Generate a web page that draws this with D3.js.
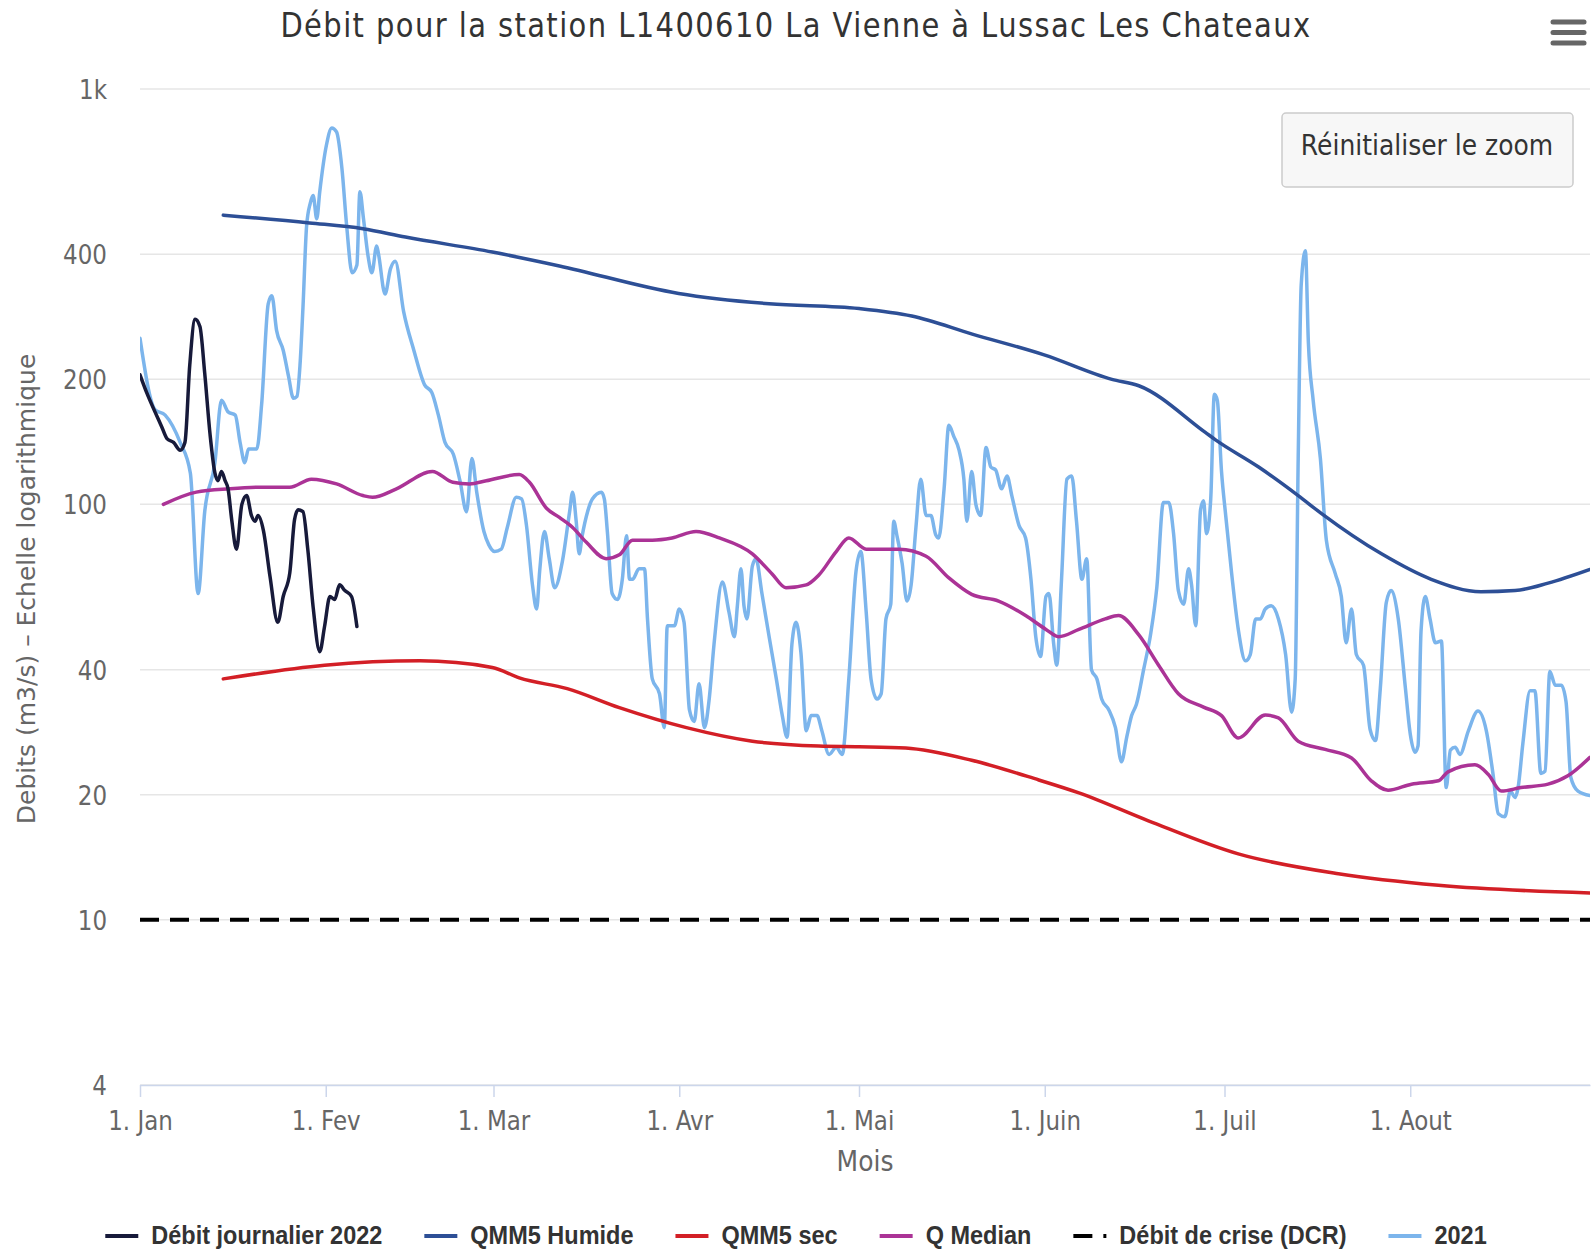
<!DOCTYPE html>
<html>
<head>
<meta charset="utf-8">
<script src="https://cdn.jsdelivr.net/npm/d3@7"></script>
<style>
body{margin:0;background:#fff;}
svg{display:block;}
</style>
</head>
<body>
<div id="chart-area"></div>
<script>

// ---- data (day = days after 1 Jan, value = m3/s) ----
const yTicks = [4,10,20,40,100,200,400,1000]
const monthLabels = ['1. Jan','1. Fev','1. Mar','1. Avr','1. Mai','1. Juin','1. Juil','1. Aout']
const seriesNames = ['Débit journalier 2022','QMM5 Humide','QMM5 sec','Q Median','Débit de crise (DCR)','2021']

const days2022 = [0,1.1,2.5,3.6,4.5,5.6,6.7,7.5,8.3,9.2,10,10.8,11.7,12.5,13,13.6,14.2,14.7,15.3,16.1,17,17.8,18.6,19.2,19.7,20.6,21.7,23,23.9,25,25.8,26.4,27.2,28,28.9,30,30.8,31.7,32.5,33.3,34.2,35.3,36.2]
const debit2022 = [205,186,167,154,144,141,135,141,216,279,268,207,147,119,114,120,114,109,92,78,100,105,94,91,94,86.5,67,52,60,68.4,92,97,96,78,56.5,44.2,50.8,60,59,64,62,60,50.8]

const daysHumide = [13.9,28.3,37.2,44.3,58.8,70,89.9,105,120,128.8,138.9,150.9,162.2,166.7,177.8,179.5,186.7,193.3,197.2,207.2,215.5,223.8,229.5,235,242]
const qmm5Humide = [497,476,461,440,405,375,322,304,296,284,257,229,200,193,149,143,123,105,95,76,66,61.6,62,64.6,69.7]

const daysSec = [13.9,30.8,46.7,58.8,63.3,71.3,80,91.2,102.2,113.3,120,127.8,138.8,150,156.7,168.3,183.3,200,216.7,242]
const qmm5Sec = [38,41,42,40.5,38.2,36,32.4,29,26.9,26.2,26.1,25.9,24.2,21.7,20.2,17.3,14.4,12.9,12.1,11.6]

const daysMedian = [3.9,9.4,15,20.5,25,28.6,32.8,37.2,38.8,42.8,48.8,52.2,55,57.8,63.3,65,67.8,70,72.2,74.5,77.8,80,82.2,85.5,88.8,92.8,96.7,102.2,105.5,107.8,111.2,113.3,116.2,118.3,121.2,126.7,131.2,135,138.8,143.3,147.8,151.2,153.3,156.7,161.1,163.3,166.7,170,173.3,177.5,180.5,183.3,187.8,190,193.3,197.8,202.2,205.5,208.3,212.2,216.7,218.3,222.8,225,227.2,230.5,235,238.3,242]
const qMedian = [100,107,109,110,110,115,112,105,104,109,120,113,112,114,118,113,98,93,88,81,74,75.6,82,82,83,86,83,76,68,63,64,67.6,77,83,78,78,75,66.5,60.7,58.5,54,50,48,50,53,54,48.5,41,35,32.5,31,27.4,31.1,30.6,26.9,25.7,24.5,21.6,20.5,21.2,21.6,22.7,23.6,22.4,20.4,20.8,21.2,22.2,24.6]

const daysDCR = [0,242]
const dcr = [10,10]

const days2021 = [0,2.5,4.2,6.7,8.4,9.7,10.8,12.5,13.6,14.7,15.9,16.7,17.5,18.1,19.5,20.3,21.4,22,22.8,23.9,24.8,25.6,26.2,26.7,27.2,27.8,28.4,28.9,29.5,30,31.1,32,32.8,33.7,34.5,35.4,36.2,36.7,37.3,38.1,38.7,39.5,39.8,40.9,41.8,42.6,44,45.7,47.5,48.7,49.8,50.9,52.3,53.4,54.5,55.4,56.2,57.4,58.2,59.2,60.3,61.3,62.8,63.7,64.5,65.5,66.2,66.7,67.5,68.3,69.2,70.5,71.7,72.2,72.8,73.3,73.8,74.7,75.5,77,77.5,78,78.8,79.7,80.5,81.2,81.7,82.2,83.3,84.2,84.7,85.5,86.7,87.5,88,89.2,90,90.8,91.7,92.5,93.3,94.2,95,95.8,97.2,98.3,99.2,99.7,100.3,100.8,101.3,102.2,102.8,103.8,105,106.2,107.2,108,108.8,109.5,110.3,111.2,112,113,113.8,115,116.2,117.2,118.3,119.5,120.3,121.2,122,123,123.7,124.5,125.3,125.8,126.3,127.2,128,128.7,129.5,130.3,131.2,132,132.8,133.3,134.2,135,135.8,136.7,137.5,138,138.8,139.5,140.3,141.2,142,142.8,143.8,144.7,145.5,146.7,147.8,148.7,149.5,150.3,151.2,151.7,152.5,153,153.8,154.7,155.5,156.3,157.2,158,158.8,159.7,160.5,161.7,162.8,163.8,164.7,165.5,166.3,167.5,168.7,169.7,170.8,171.7,172.5,173.3,174.2,175,175.5,176.2,177,177.5,178,178.7,179.3,179.8,180.5,181.2,182.2,183.3,184.5,185.3,186.2,187,187.8,188.8,190,191.2,192.2,192.8,193.3,193.8,194.5,195,195.8,197,198,199.5,200.5,201.3,202.2,203,204.2,205.3,206.2,207,208,208.8,210,211.2,212,212.8,213.3,213.8,214.5,215.3,216.2,217.2,218,218.7,219.5,220.3,221.7,223.3,224.7,225.8,226.7,227.8,228.7,229.5,230,230.8,232,232.8,233.8,234.5,235.3,236.2,237.2,238,238.8,240,242]
const q2021 = [251,169,164,141,119,61,96,126,178,167,164,141,126,136,136,174,304,318,262,235,203,180,182,216,298,467,530,554,487,566,731,806,788,644,467,361,377,566,487,393,361,419,401,321,369,385,291,235,194,186,164,141,132,114,96,129,107,86,80,77,78,88,104,103,89,64,56,69,86,74,63,73,96,107,91,76,84,96,103,107,103,86,61,59,66,84,66,66,70,70,53,38,35,29,51,51,56,52,32,30,37,29,34,46,65,55,48,57,70,57,53,71,74,61,48,38,31,27.5,46,52,44,28.5,31,31,28.5,25,26,25,38,69,77,55,38,34,35,53,57.5,91,84.5,72,58.5,64,88,115,94,94,84.5,83,109,155,146,135,115,91,120,100,94,137,123,121,109,117,105,89,83,66,48,43,60,61,46,41,66,115,117,91,66,74,40,38,34,32,29,24,27.6,31,33,40,49,63,101,101,85,62,57.5,70,64,51,97,102,85,103,184,178,120,94,68,50,42,43.5,53,53,56,57,53,43.5,31.6,38,129,337,408,245,178,129,82,68,60,46.4,56,43.5,41,28.7,27,36,58,62,53,36,28,25.3,26.2,49.5,60,53,46.4,46.9,20.8,25.6,26,25,28.5,31.8,28.5,22.5,18,17.7,20.4,19.7,20.8,26.6,35.6,35.6,22.5,22.8,39.6,36.7,36.7,33.5,22,20.4,19.9]

// ---- layout ----
const WIDTH = 1592, HEIGHT = 1251
const PLOT = {LEFT:140, RIGHT:1590, TOP:89, BOTTOM:1085}
const FONT = '"DejaVu Sans", Verdana, sans-serif'
const LEGEND_FONT = '"Liberation Sans", Arial, sans-serif'
const colors = ['#171a3a','#2d4f96','#d31f26','#ab3396','#000000','#7cb5ec']

const start = Date.UTC(2022,0,1)
const dayToDate = d => new Date(start + d*864e5)

const svg = d3.select('#chart-area').append('svg')
	.attr('width',WIDTH)
	.attr('height',HEIGHT)

const x = d3.scaleUtc()
	.domain([dayToDate(0), dayToDate(242)])
	.range([PLOT.LEFT, PLOT.RIGHT])

const y = d3.scaleLog()
	.domain([4,1000])
	.range([PLOT.BOTTOM, PLOT.TOP])

// title
svg.append('text')
	.attr('transform',`translate(${WIDTH/2},37) scale(1,1.15)`)
	.attr('text-anchor','middle')
	.attr('font-family',FONT)
	.attr('font-size',29)
	.attr('letter-spacing',1.4)
	.attr('fill','#333')
	.text('Débit pour la station L1400610 La Vienne à Lussac Les Chateaux')

// grid lines
svg.append('g').selectAll('line').data(yTicks).enter().append('line')
	.attr('x1',PLOT.LEFT).attr('x2',PLOT.RIGHT)
	.attr('y1',d=>y(d)).attr('y2',d=>y(d))
	.attr('stroke','#e6e6e6')
	.attr('stroke-width',1.5)

// y labels
svg.append('g').selectAll('text').data(yTicks).enter().append('text')
	.attr('transform',d=>`translate(${PLOT.LEFT-33},${y(d)+10}) scale(1,1.15)`)
	.attr('text-anchor','end')
	.attr('font-family',FONT)
	.attr('font-size',23)
	.attr('fill','#666')
	.text(d=> d>=1000 ? (d/1000)+'k' : d)

svg.append('text')
	.attr('transform',`translate(35,${(PLOT.TOP+PLOT.BOTTOM)/2+2}) rotate(-90)`)
	.attr('text-anchor','middle')
	.attr('font-family',FONT)
	.attr('font-size',25)
	.attr('fill','#666')
	.text('Debits (m3/s) – Echelle logarithmique')

// x axis
const monthStarts = d3.utcMonths(dayToDate(0), dayToDate(242))
const xAxisCall = d3.axisBottom(x)
	.tickValues(monthStarts)
	.tickSize(12)
	.tickSizeOuter(0)
	.tickFormat((d,i)=>monthLabels[i])

const gx = svg.append('g')
	.attr('transform',`translate(0,${PLOT.BOTTOM})`)
	.call(xAxisCall)
	.attr('font-family',FONT)
	.attr('font-size',23)
gx.select('.domain').attr('stroke','#ccd6eb').attr('stroke-width',1.5)
gx.selectAll('.tick line').attr('stroke','#ccd6eb').attr('stroke-width',1.5)
gx.selectAll('.tick text')
	.attr('y',0).attr('dy',0)
	.attr('transform','translate(0,45) scale(1,1.15)')
	.attr('fill','#666')

svg.append('text')
	.attr('transform',`translate(${(PLOT.LEFT+PLOT.RIGHT)/2},1171) scale(1,1.15)`)
	.attr('text-anchor','middle')
	.attr('font-family',FONT)
	.attr('font-size',25)
	.attr('fill','#666')
	.text('Mois')

// series
svg.append('clipPath').attr('id','plot-clip')
	.append('rect')
	.attr('x',PLOT.LEFT).attr('y',PLOT.TOP-20)
	.attr('width',PLOT.RIGHT-PLOT.LEFT).attr('height',PLOT.BOTTOM-PLOT.TOP+20)

const line = d3.line()
	.x(d=>x(dayToDate(d[0])))
	.y(d=>y(d[1]))
	.curve(d3.curveMonotoneX)

const zip = (a,b) => a.map((d,i)=>[d,b[i]])
const series = [
	{i:0, data:zip(days2022,debit2022)},
	{i:1, data:zip(daysHumide,qmm5Humide)},
	{i:2, data:zip(daysSec,qmm5Sec)},
	{i:3, data:zip(daysMedian,qMedian)},
	{i:4, data:zip(daysDCR,dcr), dash:'19,11'},
	{i:5, data:zip(days2021,q2021)}
]
const drawOrder = [5,1,2,3,4,0]

const gSeries = svg.append('g').attr('clip-path','url(#plot-clip)')
drawOrder.forEach(k=>{
	const s = series[k]
	gSeries.append('path')
		.datum(s.data)
		.attr('fill','none')
		.attr('stroke',colors[s.i])
		.attr('stroke-width', s.dash ? 4 : 3.5)
		.attr('stroke-dasharray', s.dash || null)
		.attr('stroke-linejoin','round')
		.attr('stroke-linecap', s.dash ? 'butt' : 'round')
		.attr('d',line)
})

// legend
const legend = svg.append('g')
const SYMBOL = 33, SYMBOL_GAP = 13, ITEM_GAP = 42
let cursor = 0
seriesNames.forEach((name,i)=>{
	const row = legend.append('g')
	row.append('line')
		.attr('x1',0).attr('x2',SYMBOL)
		.attr('y1',0).attr('y2',0)
		.attr('stroke',colors[i])
		.attr('stroke-width',4)
		.attr('stroke-dasharray', i===4 ? '19,11' : null)
	const t = row.append('text')
		.attr('transform',`translate(${SYMBOL+SYMBOL_GAP},8) scale(1,1.12)`)
		.attr('font-family',LEGEND_FONT)
		.attr('font-weight','bold')
		.attr('font-size',23.5)
		.attr('fill','#333')
		.text(name)
	const w = SYMBOL + SYMBOL_GAP + t.node().getComputedTextLength()
	row.attr('transform',`translate(${cursor},0)`)
	cursor += w + ITEM_GAP
})
const legendWidth = cursor - ITEM_GAP
legend.attr('transform',`translate(${WIDTH/2 - legendWidth/2},1236)`)

// reset zoom button
const btn = svg.append('g').attr('transform','translate(1282,113)')
btn.append('rect')
	.attr('width',291).attr('height',74).attr('rx',4)
	.attr('fill','#f7f7f7')
	.attr('stroke','#cccccc')
	.attr('stroke-width',1.5)
btn.append('text')
	.attr('transform','translate(145,42) scale(1,1.15)')
	.attr('text-anchor','middle')
	.attr('font-family',FONT)
	.attr('font-size',25)
	.attr('fill','#333')
	.text('Réinitialiser le zoom')

// context menu icon
svg.append('g').selectAll('line').data([22,32.5,43]).enter().append('line')
	.attr('x1',1553).attr('x2',1584)
	.attr('y1',d=>d).attr('y2',d=>d)
	.attr('stroke','#666')
	.attr('stroke-width',5)
	.attr('stroke-linecap','round')

</script>
</body>
</html>
